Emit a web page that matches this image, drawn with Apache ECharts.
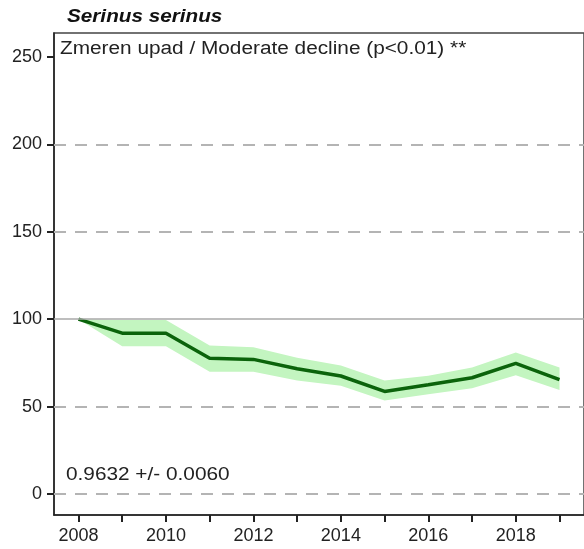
<!DOCTYPE html>
<html>
<head>
<meta charset="utf-8">
<script src="https://cdn.jsdelivr.net/npm/echarts@6/dist/echarts.min.js"></script>
<style>html,body{margin:0;padding:0;background:#fff}#c{width:584px;height:549px}</style>
</head>
<body>
<div id="c"></div>
<script>
const years = [2008, 2009, 2010, 2011, 2012, 2013, 2014, 2015, 2016, 2017, 2018, 2019];
const indexValues = [100, 92, 92, 77.6, 77, 71.7, 67.5, 58.7, 62.5, 66.5, 74.7, 65.4];
const lowerCI = [100, 84.5, 84.5, 70, 70, 65, 62, 53.5, 57, 60.5, 68, 59.5];
const upperCI = [100, 99.5, 99.5, 85, 84, 78, 73.5, 65, 67.7, 72.4, 81, 72.4];
const yTickValues = [0, 50, 100, 150, 200, 250];
const dashedRefs = [0, 50, 150, 200];
const solidRef = 100;
const xLabelYears = [2008, 2010, 2012, 2014, 2016, 2018];
const titleText = 'Serinus serinus';
const trendText = 'Zmeren upad / Moderate decline (p<0.01) **';
const slopeText = '0.9632 +/- 0.0060';

const FONT = '"Liberation Sans", Arial, sans-serif';
const chart = echarts.init(document.getElementById('c'), null, {renderer: 'canvas'});

const bandData = years.map((y, i) => [y, lowerCI[i], upperCI[i]]);
const lineData = years.map((y, i) => [y, indexValues[i]]);

const markData = dashedRefs.map(v => ({yAxis: v}))
  .concat([{yAxis: solidRef, lineStyle: {type: 'solid', color: '#a8a8a8', width: 1.5}}]);

function renderBand(params, api) {
  if (params.dataIndex !== 0) return null;
  const pts = [];
  for (let i = 0; i < years.length; i++) pts.push(api.coord([years[i], upperCI[i]]));
  for (let i = years.length - 1; i >= 0; i--) pts.push(api.coord([years[i], lowerCI[i]]));
  return {
    type: 'polygon',
    shape: {points: pts},
    style: {fill: '#c3f5c0', stroke: 'none'}
  };
}

chart.setOption({
  animation: false,
  backgroundColor: '#fff',
  grid: {
    left: 54, right: -3, top: 33, bottom: 34,
    show: true, borderColor: '#444', borderWidth: 1.5, backgroundColor: 'transparent'
  },
  xAxis: {
    type: 'value', min: 2007.44, max: 2019.56,
    axisLine: {show: true, onZero: false, lineStyle: {color: '#222', width: 1.5}},
    axisTick: {show: true, customValues: years, length: 7, lineStyle: {color: '#222', width: 2}},
    axisLabel: {show: true, customValues: xLabelYears, color: '#222', fontSize: 18, fontFamily: FONT, margin: 12,
      formatter: v => String(v)},
    splitLine: {show: false}
  },
  yAxis: {
    type: 'value', min: -12, max: 263.7,
    axisLine: {show: true, onZero: false, lineStyle: {color: '#222', width: 1.5}},
    axisTick: {show: true, customValues: yTickValues, length: 7, lineStyle: {color: '#222', width: 2}},
    axisLabel: {show: true, customValues: yTickValues, color: '#222', fontSize: 18, fontFamily: FONT, margin: 12,
      formatter: v => String(v)},
    splitLine: {show: false}
  },
  graphic: [
    {type: 'text', left: 67, top: 8, scaleX: 1.15, style: {text: titleText, font: 'italic bold 18px ' + FONT, fill: '#111'}},
    {type: 'text', left: 60, top: 40, scaleX: 1.155, style: {text: trendText, font: '18px ' + FONT, fill: '#222'}},
    {type: 'text', left: 66, top: 466, scaleX: 1.155, style: {text: slopeText, font: '18px ' + FONT, fill: '#222'}}
  ],
  series: [
    {
      type: 'line', data: [[2008, 0]], showSymbol: false, lineStyle: {opacity: 0}, silent: true,
      markLine: {
        silent: true, symbol: 'none', label: {show: false},
        lineStyle: {type: [12, 9], color: '#b4b4b4', width: 2},
        data: markData
      },
      z: 1
    },
    {
      type: 'custom', data: bandData, renderItem: renderBand,
      encode: {x: 0, y: [1, 2]}, silent: true, z: 2
    },
    {
      type: 'line', data: lineData, showSymbol: false,
      lineStyle: {color: '#0b630b', width: 3.5}, z: 3
    }
  ]
});
</script>
</body>
</html>
